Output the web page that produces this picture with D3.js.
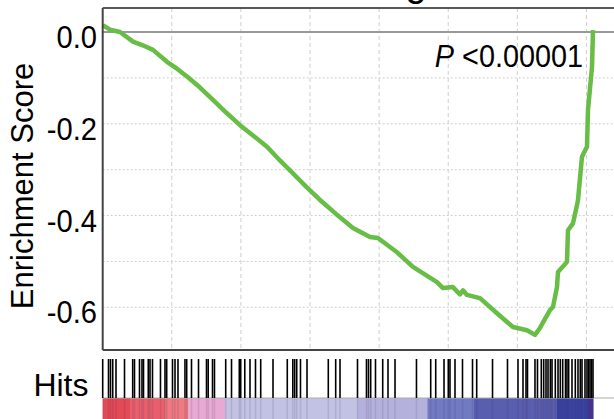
<!DOCTYPE html>
<html>
<head>
<meta charset="utf-8">
<script src="https://cdn.jsdelivr.net/npm/d3@7"></script>
<style>
  html, body { margin: 0; padding: 0; background: #fff; }
  svg { display: block; font-family: "Liberation Sans", Arial, sans-serif; }
</style>
</head>
<body>
<div id="chart"></div>
<script>
// Data
const totalGenes = 14190;
const gridRanks = [2000, 4000, 6000, 8000, 10000, 12000, 14000];
const yTicks = ['0.0', '-0.2', '-0.4', '-0.6'];
const yGrid = [-0.1, -0.2, -0.3, -0.4, -0.5, -0.6];

// running enrichment score: rank position, score
const esRank = [0, 211, 501, 877, 1160, 1456, 1861, 2150, 2440, 2800, 3192, 3580, 3974, 4360, 4755, 5130,
  5507, 5900, 6289, 6760, 7244, 7736, 7967, 8517, 8980, 9674, 9848, 10137, 10340, 10427, 10542, 10919,
  11411, 11874, 12279, 12511, 12655, 12945, 13032, 13148, 13177, 13437, 13466, 13611, 13727, 13756,
  13871, 14016, 14045, 14161, 14190];
const esScore = [0.015, 0.005, 0.0, -0.021, -0.029, -0.039, -0.065, -0.08, -0.097, -0.12, -0.148, -0.176,
  -0.203, -0.226, -0.25, -0.28, -0.308, -0.338, -0.366, -0.397, -0.427, -0.447, -0.449, -0.48, -0.512,
  -0.545, -0.558, -0.556, -0.572, -0.563, -0.573, -0.58, -0.613, -0.643, -0.65, -0.66, -0.645, -0.606,
  -0.599, -0.556, -0.523, -0.501, -0.432, -0.417, -0.377, -0.366, -0.272, -0.25, -0.17, -0.076, 0.004];

// gene set hits (ranks)
const hitRanks = [0, 168, 225, 290, 385, 631, 868, 920, 1065, 1137, 1181, 1319, 1369, 1441, 1672, 1803,
  1852, 2020, 2093, 2179, 2381, 2431, 2570, 2773, 3004, 3053, 3178, 3235, 3560, 3728, 3953, 3994, 4112,
  4263, 4422, 4573, 4929, 5342, 5502, 5556, 5615, 5724, 5913, 6529, 6743, 6868, 7374, 7634, 7692, 7756,
  7895, 8104, 8257, 8460, 9081, 9493, 9638, 9878, 10002, 10051, 10196, 10413, 10703, 10824, 11282, 11715,
  12019, 12164, 12251, 12294, 12511, 12583, 12694, 12763, 12830, 12888, 12955, 13004, 13099, 13178, 13244,
  13313, 13394, 13437, 13486, 13582, 13678, 13756, 13822, 13872, 13958, 14016, 14060, 14104, 14147, 14190];

// ranked list colour bar: segment start ranks and colours
const barStarts = [0, 790, 1803, 2469, 3540, 7374, 9400, 10746, 13148, 14045];
const barColors = ['#e34a56', '#e9606c', '#ee7a82', '#e8aad2', '#c2c2e3', '#b4b2dc', '#727ac2',
  '#5a5eae', '#3a44a2', '#4a3696'];

const width = 614, height = 419;

const svg = d3.select('#chart').append('svg')
  .attr('width', width)
  .attr('height', height);

const x = d3.scaleLinear().domain([0, totalGenes]).range([102.7, 593]);
const y = d3.scaleLinear().domain([0, -0.6]).range([32, 307.3]);

const plotTop = 8, plotBottom = 350, plotLeft = 102.7, plotRight = 640;

// Grid
svg.append('g').selectAll('line')
  .data(gridRanks)
  .enter().append('line')
  .attr('x1', d => x(d)).attr('x2', d => x(d))
  .attr('y1', plotTop).attr('y2', plotBottom)
  .attr('stroke', '#cfcfcf').attr('stroke-width', 1)
  .attr('stroke-dasharray', '4,3');

svg.append('g').selectAll('line')
  .data(yGrid)
  .enter().append('line')
  .attr('x1', plotLeft).attr('x2', plotRight)
  .attr('y1', d => y(d)).attr('y2', d => y(d))
  .attr('stroke', '#cfcfcf').attr('stroke-width', 1)
  .attr('stroke-dasharray', '2,2');

// zero line
svg.append('line')
  .attr('x1', plotLeft).attr('x2', plotRight)
  .attr('y1', y(0)).attr('y2', y(0))
  .attr('stroke', '#999').attr('stroke-width', 2);

// Enrichment curve
const line = d3.line()
  .x(d => x(d[0]))
  .y(d => y(d[1]));

svg.append('path')
  .datum(esRank.map((r, i) => [r, esScore[i]]))
  .attr('d', line)
  .attr('fill', 'none')
  .attr('stroke', '#67bd45')
  .attr('stroke-width', 4.5)
  .attr('stroke-linejoin', 'round');

// Plot frame
svg.append('line').attr('x1', plotLeft).attr('x2', plotRight)
  .attr('y1', plotTop).attr('y2', plotTop)
  .attr('stroke', '#222').attr('stroke-width', 1.5);
svg.append('line').attr('x1', plotLeft).attr('x2', plotRight)
  .attr('y1', plotBottom).attr('y2', plotBottom)
  .attr('stroke', '#444').attr('stroke-width', 2);
svg.append('line').attr('x1', plotLeft).attr('x2', plotLeft)
  .attr('y1', plotTop).attr('y2', plotBottom)
  .attr('stroke', '#444').attr('stroke-width', 2);

// Y tick labels
svg.append('g').selectAll('text')
  .data(yTicks)
  .enter().append('text')
  .attr('transform', d => `translate(97,${y(+d) + 16}) scale(0.94,1)`)
  .attr('text-anchor', 'end')
  .style('font-size', '31px')
  .text(d => d);

// Y axis label
svg.append('text')
  .attr('transform', 'translate(33,186) rotate(-90)')
  .attr('text-anchor', 'middle')
  .style('font-size', '31px')
  .text('Enrichment Score');

// clipped title descender
svg.append('text')
  .attr('x', 416).attr('y', -4)
  .attr('text-anchor', 'middle')
  .style('font-size', '38px')
  .text('g');

// P value
const pText = svg.append('text')
  .attr('transform', 'translate(583,66.5) scale(0.9,1)')
  .attr('text-anchor', 'end')
  .style('font-size', '32px');
pText.append('tspan').style('font-style', 'italic').text('P');
pText.append('tspan').text(' <0.00001');

// Hits panel
svg.append('text')
  .attr('x', 88.5).attr('y', 396)
  .attr('text-anchor', 'end')
  .style('font-size', '32px')
  .text('Hits');

svg.append('g').selectAll('rect')
  .data(barStarts)
  .enter().append('rect')
  .attr('x', d => x(d))
  .attr('y', 398)
  .attr('width', (d, i) => x(i < barStarts.length - 1 ? barStarts[i + 1] : totalGenes) - x(d) + 0.5)
  .attr('height', 25)
  .attr('fill', (d, i) => barColors[i]);

// faint stripes of hits over the colour bar
svg.append('g').selectAll('line')
  .data(hitRanks)
  .enter().append('line')
  .attr('x1', d => x(d)).attr('x2', d => x(d))
  .attr('y1', 399).attr('y2', 419)
  .attr('stroke', 'rgba(40,30,80,0.12)').attr('stroke-width', 1.5);

svg.append('line')
  .attr('x1', plotLeft).attr('x2', plotRight)
  .attr('y1', 398).attr('y2', 398)
  .attr('stroke', '#aaa').attr('stroke-width', 1);

svg.append('g').selectAll('line')
  .data(hitRanks)
  .enter().append('line')
  .attr('x1', d => x(d)).attr('x2', d => x(d))
  .attr('y1', 359).attr('y2', 398)
  .attr('stroke', '#000').attr('stroke-width', 1.6);
</script>
</body>
</html>
